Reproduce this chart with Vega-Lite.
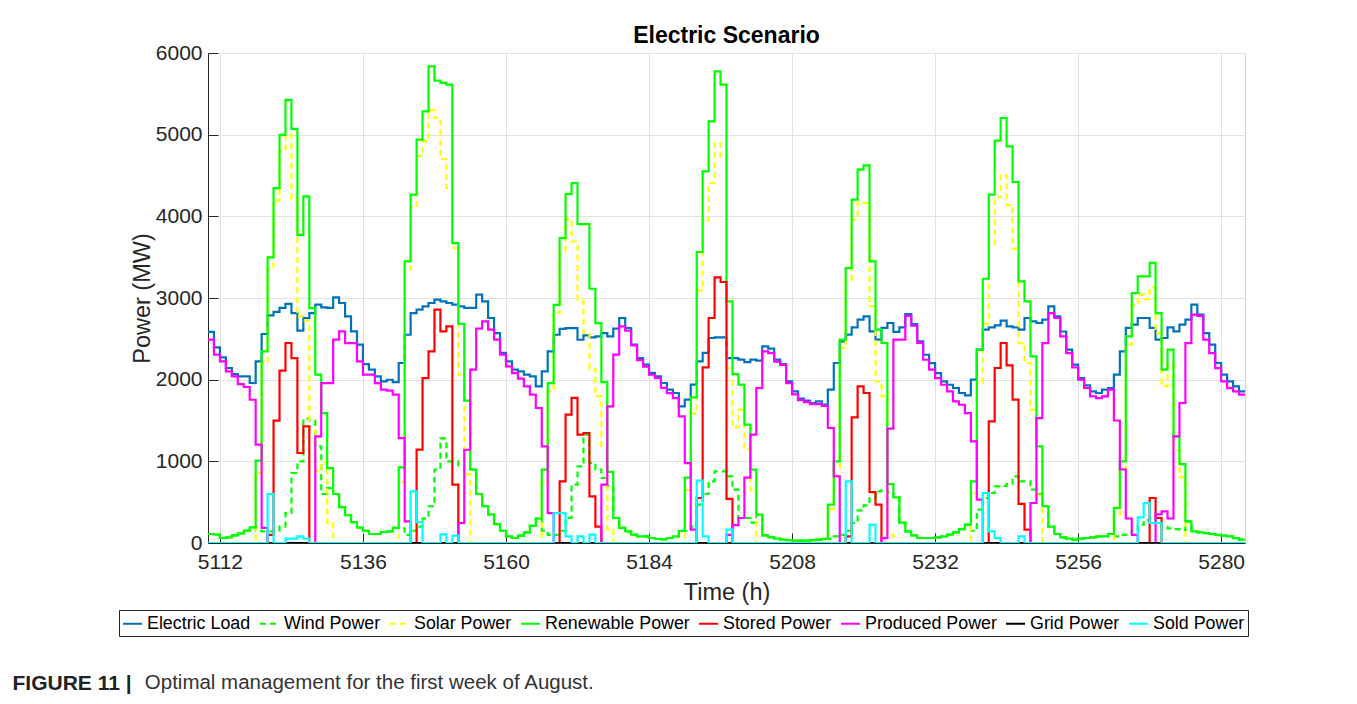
{
  "$schema": "https://vega.github.io/schema/vega-lite/v6.json",
  "background": "white",
  "padding": {"left": 12, "top": 24, "right": 5, "bottom": 5},
  "datasets": {
    "names": [
      {"k": "L", "name": "Electric Load"},
      {"k": "W", "name": "Wind Power"},
      {"k": "S", "name": "Solar Power"},
      {"k": "R", "name": "Renewable Power"},
      {"k": "St", "name": "Stored Power"},
      {"k": "P", "name": "Produced Power"},
      {"k": "G", "name": "Grid Power"},
      {"k": "C", "name": "Sold Power"}
    ],
    "power": [
      {"t":5110,"L":2584,"W":110,"S":0,"R":110,"St":0,"P":2490,"G":0,"C":0},
      {"t":5111,"L":2396,"W":102,"S":0,"R":102,"St":0,"P":2306,"G":0,"C":0},
      {"t":5112,"L":2273,"W":61,"S":0,"R":61,"St":0,"P":2224,"G":0,"C":0},
      {"t":5113,"L":2143,"W":69,"S":0,"R":69,"St":0,"P":2102,"G":0,"C":0},
      {"t":5114,"L":2069,"W":94,"S":0,"R":94,"St":0,"P":2041,"G":0,"C":0},
      {"t":5115,"L":2041,"W":118,"S":0,"R":118,"St":0,"P":1946,"G":0,"C":0},
      {"t":5116,"L":2041,"W":151,"S":0,"R":151,"St":0,"P":1910,"G":0,"C":0},
      {"t":5117,"L":1959,"W":192,"S":0,"R":192,"St":0,"P":1754,"G":0,"C":0},
      {"t":5118,"L":2224,"W":150,"S":858,"R":1008,"St":0,"P":1204,"G":0,"C":0},
      {"t":5119,"L":2559,"W":143,"S":2203,"R":2346,"St":0,"P":184,"G":0,"C":0},
      {"t":5120,"L":2788,"W":143,"S":3354,"R":3497,"St":100,"P":0,"G":0,"C":600},
      {"t":5121,"L":2829,"W":150,"S":4195,"R":4345,"St":1498,"P":0,"G":0,"C":0},
      {"t":5122,"L":2878,"W":200,"S":4798,"R":4998,"St":2110,"P":0,"G":0,"C":0},
      {"t":5123,"L":2927,"W":367,"S":5000,"R":5427,"St":2449,"P":0,"G":0,"C":53},
      {"t":5124,"L":2816,"W":857,"S":4214,"R":5071,"St":2265,"P":0,"G":0,"C":53},
      {"t":5125,"L":2600,"W":1000,"S":2774,"R":3774,"St":1102,"P":0,"G":0,"C":82},
      {"t":5126,"L":2755,"W":1522,"S":2722,"R":4244,"St":1428,"P":0,"G":0,"C":53},
      {"t":5127,"L":2816,"W":1500,"S":1377,"R":2877,"St":0,"P":0,"G":0,"C":0},
      {"t":5128,"L":2918,"W":1184,"S":877,"R":2061,"St":0,"P":1306,"G":0,"C":0},
      {"t":5129,"L":2886,"W":600,"S":991,"R":1591,"St":0,"P":1958,"G":0,"C":0},
      {"t":5130,"L":2878,"W":673,"S":245,"R":918,"St":0,"P":1958,"G":0,"C":0},
      {"t":5131,"L":3008,"W":600,"S":0,"R":600,"St":0,"P":2490,"G":0,"C":0},
      {"t":5132,"L":2939,"W":440,"S":0,"R":440,"St":0,"P":2591,"G":0,"C":0},
      {"t":5133,"L":2776,"W":340,"S":0,"R":340,"St":0,"P":2448,"G":0,"C":0},
      {"t":5134,"L":2592,"W":255,"S":0,"R":255,"St":0,"P":2448,"G":0,"C":0},
      {"t":5135,"L":2429,"W":190,"S":0,"R":190,"St":0,"P":2224,"G":0,"C":0},
      {"t":5136,"L":2191,"W":150,"S":0,"R":150,"St":0,"P":2061,"G":0,"C":0},
      {"t":5137,"L":2122,"W":110,"S":0,"R":110,"St":0,"P":2061,"G":0,"C":0},
      {"t":5138,"L":2041,"W":110,"S":0,"R":110,"St":0,"P":1958,"G":0,"C":0},
      {"t":5139,"L":1979,"W":135,"S":0,"R":135,"St":0,"P":1877,"G":0,"C":0},
      {"t":5140,"L":1999,"W":143,"S":0,"R":143,"St":0,"P":1865,"G":0,"C":0},
      {"t":5141,"L":1971,"W":184,"S":0,"R":184,"St":0,"P":1816,"G":0,"C":0},
      {"t":5142,"L":2204,"W":180,"S":747,"R":927,"St":0,"P":1285,"G":0,"C":0},
      {"t":5143,"L":2550,"W":100,"S":3349,"R":3449,"St":0,"P":265,"G":0,"C":0},
      {"t":5144,"L":2816,"W":150,"S":4115,"R":4265,"St":0,"P":0,"G":0,"C":633},
      {"t":5145,"L":2857,"W":200,"S":4739,"R":4939,"St":1143,"P":0,"G":0,"C":255},
      {"t":5146,"L":2898,"W":300,"S":4918,"R":5286,"St":2020,"P":0,"G":0,"C":0},
      {"t":5147,"L":2939,"W":450,"S":5300,"R":5837,"St":2347,"P":0,"G":0,"C":0},
      {"t":5148,"L":2980,"W":900,"S":5204,"R":5661,"St":2857,"P":0,"G":0,"C":0},
      {"t":5149,"L":2959,"W":1280,"S":4700,"R":5633,"St":2592,"P":0,"G":0,"C":105},
      {"t":5150,"L":2939,"W":1000,"S":4347,"R":5612,"St":2653,"P":0,"G":0,"C":0},
      {"t":5151,"L":2918,"W":1000,"S":3612,"R":3673,"St":714,"P":0,"G":0,"C":90},
      {"t":5152,"L":2898,"W":950,"S":2061,"R":2682,"St":0,"P":245,"G":0,"C":0},
      {"t":5153,"L":2878,"W":900,"S":843,"R":1743,"St":0,"P":1142,"G":0,"C":0},
      {"t":5154,"L":2878,"W":900,"S":0,"R":900,"St":0,"P":2122,"G":0,"C":0},
      {"t":5155,"L":3041,"W":600,"S":0,"R":600,"St":0,"P":2624,"G":0,"C":0},
      {"t":5156,"L":2959,"W":450,"S":0,"R":450,"St":0,"P":2714,"G":0,"C":0},
      {"t":5157,"L":2755,"W":350,"S":0,"R":350,"St":0,"P":2612,"G":0,"C":0},
      {"t":5158,"L":2571,"W":230,"S":0,"R":230,"St":0,"P":2490,"G":0,"C":0},
      {"t":5159,"L":2327,"W":150,"S":0,"R":150,"St":0,"P":2306,"G":0,"C":0},
      {"t":5160,"L":2224,"W":80,"S":0,"R":80,"St":0,"P":2163,"G":0,"C":0},
      {"t":5161,"L":2122,"W":61,"S":0,"R":61,"St":0,"P":2081,"G":0,"C":0},
      {"t":5162,"L":2102,"W":90,"S":0,"R":90,"St":0,"P":2012,"G":0,"C":0},
      {"t":5163,"L":2061,"W":130,"S":0,"R":130,"St":0,"P":1918,"G":0,"C":0},
      {"t":5164,"L":2041,"W":210,"S":0,"R":210,"St":0,"P":1816,"G":0,"C":0},
      {"t":5165,"L":1918,"W":300,"S":0,"R":300,"St":0,"P":1653,"G":0,"C":0},
      {"t":5166,"L":2102,"W":150,"S":748,"R":898,"St":0,"P":1184,"G":0,"C":0},
      {"t":5167,"L":2346,"W":100,"S":1858,"R":1958,"St":0,"P":367,"G":0,"C":0},
      {"t":5168,"L":2550,"W":100,"S":2817,"R":2917,"St":0,"P":0,"G":0,"C":367},
      {"t":5169,"L":2623,"W":150,"S":3583,"R":3733,"St":755,"P":0,"G":0,"C":367},
      {"t":5170,"L":2632,"W":306,"S":3966,"R":4272,"St":1571,"P":0,"G":0,"C":80},
      {"t":5171,"L":2632,"W":714,"S":3692,"R":4406,"St":1776,"P":0,"G":0,"C":0},
      {"t":5172,"L":2489,"W":939,"S":2966,"R":3905,"St":1327,"P":0,"G":0,"C":82},
      {"t":5173,"L":2542,"W":1327,"S":2578,"R":3905,"St":1347,"P":0,"G":0,"C":0},
      {"t":5174,"L":2517,"W":980,"S":2133,"R":3113,"St":570,"P":0,"G":0,"C":102},
      {"t":5175,"L":2530,"W":898,"S":1795,"R":2693,"St":200,"P":0,"G":0,"C":0},
      {"t":5176,"L":2570,"W":796,"S":1175,"R":1971,"St":0,"P":714,"G":0,"C":0},
      {"t":5177,"L":2530,"W":700,"S":170,"R":870,"St":0,"P":1673,"G":0,"C":0},
      {"t":5178,"L":2624,"W":306,"S":0,"R":306,"St":0,"P":2306,"G":0,"C":0},
      {"t":5179,"L":2755,"W":184,"S":0,"R":184,"St":0,"P":2652,"G":0,"C":0},
      {"t":5180,"L":2632,"W":143,"S":0,"R":143,"St":0,"P":2599,"G":0,"C":0},
      {"t":5181,"L":2428,"W":102,"S":0,"R":102,"St":0,"P":2419,"G":0,"C":0},
      {"t":5182,"L":2265,"W":82,"S":0,"R":82,"St":0,"P":2240,"G":0,"C":0},
      {"t":5183,"L":2184,"W":82,"S":0,"R":82,"St":0,"P":2160,"G":0,"C":0},
      {"t":5184,"L":2082,"W":61,"S":0,"R":61,"St":0,"P":2060,"G":0,"C":0},
      {"t":5185,"L":2041,"W":50,"S":0,"R":50,"St":0,"P":2020,"G":0,"C":0},
      {"t":5186,"L":1959,"W":45,"S":0,"R":45,"St":0,"P":1900,"G":0,"C":0},
      {"t":5187,"L":1877,"W":61,"S":0,"R":61,"St":0,"P":1836,"G":0,"C":0},
      {"t":5188,"L":1837,"W":82,"S":0,"R":82,"St":0,"P":1775,"G":0,"C":0},
      {"t":5189,"L":1673,"W":150,"S":0,"R":150,"St":0,"P":1550,"G":0,"C":0},
      {"t":5190,"L":1755,"W":150,"S":650,"R":800,"St":0,"P":979,"G":0,"C":0},
      {"t":5191,"L":1939,"W":200,"S":1584,"R":1784,"St":0,"P":163,"G":0,"C":0},
      {"t":5192,"L":2224,"W":469,"S":3094,"R":3563,"St":551,"P":0,"G":0,"C":763},
      {"t":5193,"L":2327,"W":600,"S":3951,"R":4551,"St":2150,"P":0,"G":0,"C":82},
      {"t":5194,"L":2510,"W":755,"S":4408,"R":5163,"St":2755,"P":0,"G":0,"C":0},
      {"t":5195,"L":2517,"W":878,"S":4898,"R":5776,"St":3253,"P":0,"G":0,"C":0},
      {"t":5196,"L":2517,"W":878,"S":4734,"R":5612,"St":3196,"P":0,"G":0,"C":0},
      {"t":5197,"L":2265,"W":816,"S":2143,"R":2959,"St":540,"P":100,"G":0,"C":163},
      {"t":5198,"L":2265,"W":653,"S":1416,"R":2069,"St":0,"P":220,"G":0,"C":0},
      {"t":5199,"L":2245,"W":306,"S":1633,"R":1939,"St":0,"P":306,"G":0,"C":0},
      {"t":5200,"L":2216,"W":306,"S":1143,"R":1449,"St":0,"P":800,"G":0,"C":0},
      {"t":5201,"L":2245,"W":250,"S":648,"R":898,"St":0,"P":1327,"G":0,"C":0},
      {"t":5202,"L":2233,"W":347,"S":0,"R":347,"St":0,"P":1897,"G":0,"C":0},
      {"t":5203,"L":2408,"W":94,"S":0,"R":94,"St":0,"P":2346,"G":0,"C":0},
      {"t":5204,"L":2380,"W":69,"S":0,"R":69,"St":0,"P":2326,"G":0,"C":0},
      {"t":5205,"L":2245,"W":53,"S":0,"R":53,"St":0,"P":2220,"G":0,"C":0},
      {"t":5206,"L":2192,"W":41,"S":0,"R":41,"St":0,"P":2180,"G":0,"C":0},
      {"t":5207,"L":1980,"W":35,"S":0,"R":35,"St":0,"P":1958,"G":0,"C":0},
      {"t":5208,"L":1857,"W":30,"S":0,"R":30,"St":0,"P":1820,"G":0,"C":0},
      {"t":5209,"L":1767,"W":30,"S":0,"R":30,"St":0,"P":1750,"G":0,"C":0},
      {"t":5210,"L":1743,"W":30,"S":0,"R":30,"St":0,"P":1725,"G":0,"C":0},
      {"t":5211,"L":1714,"W":35,"S":0,"R":35,"St":0,"P":1700,"G":0,"C":0},
      {"t":5212,"L":1735,"W":41,"S":0,"R":41,"St":0,"P":1700,"G":0,"C":0},
      {"t":5213,"L":1694,"W":50,"S":0,"R":50,"St":0,"P":1680,"G":0,"C":0},
      {"t":5214,"L":1878,"W":50,"S":419,"R":469,"St":0,"P":1408,"G":0,"C":0},
      {"t":5215,"L":2204,"W":80,"S":920,"R":1000,"St":0,"P":816,"G":0,"C":0},
      {"t":5216,"L":2469,"W":100,"S":2390,"R":2490,"St":0,"P":0,"G":0,"C":0},
      {"t":5217,"L":2551,"W":150,"S":3217,"R":3367,"St":80,"P":0,"G":0,"C":755},
      {"t":5218,"L":2641,"W":245,"S":3959,"R":4204,"St":1539,"P":0,"G":0,"C":0},
      {"t":5219,"L":2735,"W":400,"S":4171,"R":4571,"St":1918,"P":0,"G":0,"C":0},
      {"t":5220,"L":2776,"W":461,"S":4163,"R":4624,"St":1837,"P":0,"G":0,"C":0},
      {"t":5221,"L":2592,"W":550,"S":2899,"R":3449,"St":624,"P":0,"G":0,"C":224},
      {"t":5222,"L":2490,"W":633,"S":1979,"R":2612,"St":469,"P":0,"G":0,"C":0},
      {"t":5223,"L":2633,"W":650,"S":1799,"R":2449,"St":0,"P":60,"G":0,"C":0},
      {"t":5224,"L":2694,"W":620,"S":100,"R":720,"St":0,"P":1400,"G":0,"C":0},
      {"t":5225,"L":2584,"W":560,"S":0,"R":560,"St":0,"P":2490,"G":0,"C":0},
      {"t":5226,"L":2640,"W":250,"S":0,"R":250,"St":0,"P":2490,"G":0,"C":0},
      {"t":5227,"L":2803,"W":143,"S":0,"R":143,"St":0,"P":2780,"G":0,"C":0},
      {"t":5228,"L":2680,"W":94,"S":0,"R":94,"St":0,"P":2660,"G":0,"C":0},
      {"t":5229,"L":2468,"W":61,"S":0,"R":61,"St":0,"P":2450,"G":0,"C":0},
      {"t":5230,"L":2305,"W":61,"S":0,"R":61,"St":0,"P":2244,"G":0,"C":0},
      {"t":5231,"L":2203,"W":61,"S":0,"R":61,"St":0,"P":2122,"G":0,"C":0},
      {"t":5232,"L":2081,"W":70,"S":0,"R":70,"St":0,"P":2020,"G":0,"C":0},
      {"t":5233,"L":1979,"W":82,"S":0,"R":82,"St":0,"P":1938,"G":0,"C":0},
      {"t":5234,"L":1938,"W":102,"S":0,"R":102,"St":0,"P":1857,"G":0,"C":0},
      {"t":5235,"L":1898,"W":130,"S":0,"R":130,"St":0,"P":1734,"G":0,"C":0},
      {"t":5236,"L":1837,"W":170,"S":0,"R":170,"St":0,"P":1693,"G":0,"C":0},
      {"t":5237,"L":1808,"W":224,"S":0,"R":224,"St":0,"P":1591,"G":0,"C":0},
      {"t":5238,"L":2000,"W":150,"S":605,"R":755,"St":0,"P":1244,"G":0,"C":0},
      {"t":5239,"L":2367,"W":408,"S":1959,"R":2367,"St":0,"P":530,"G":0,"C":0},
      {"t":5240,"L":2612,"W":550,"S":2686,"R":3236,"St":0,"P":0,"G":0,"C":612},
      {"t":5241,"L":2640,"W":612,"S":3653,"R":4265,"St":1489,"P":0,"G":0,"C":143},
      {"t":5242,"L":2665,"W":694,"S":4233,"R":4927,"St":2143,"P":0,"G":0,"C":60},
      {"t":5243,"L":2722,"W":700,"S":4504,"R":5204,"St":2449,"P":0,"G":0,"C":0},
      {"t":5244,"L":2653,"W":720,"S":4137,"R":4857,"St":2176,"P":0,"G":0,"C":0},
      {"t":5245,"L":2640,"W":816,"S":3604,"R":4420,"St":1755,"P":0,"G":0,"C":0},
      {"t":5246,"L":2612,"W":755,"S":2448,"R":3203,"St":478,"P":0,"G":0,"C":82},
      {"t":5247,"L":2755,"W":755,"S":2204,"R":2959,"St":163,"P":0,"G":0,"C":0},
      {"t":5248,"L":2714,"W":653,"S":1632,"R":2285,"St":0,"P":490,"G":0,"C":0},
      {"t":5249,"L":2694,"W":600,"S":584,"R":1184,"St":0,"P":1530,"G":0,"C":0},
      {"t":5250,"L":2735,"W":450,"S":0,"R":450,"St":0,"P":2448,"G":0,"C":0},
      {"t":5251,"L":2898,"W":200,"S":0,"R":200,"St":0,"P":2816,"G":0,"C":0},
      {"t":5252,"L":2776,"W":110,"S":0,"R":110,"St":0,"P":2755,"G":0,"C":0},
      {"t":5253,"L":2590,"W":69,"S":0,"R":69,"St":0,"P":2530,"G":0,"C":0},
      {"t":5254,"L":2367,"W":53,"S":0,"R":53,"St":0,"P":2326,"G":0,"C":0},
      {"t":5255,"L":2184,"W":41,"S":0,"R":41,"St":0,"P":2150,"G":0,"C":0},
      {"t":5256,"L":2020,"W":53,"S":0,"R":53,"St":0,"P":2000,"G":0,"C":0},
      {"t":5257,"L":1930,"W":61,"S":0,"R":61,"St":0,"P":1898,"G":0,"C":0},
      {"t":5258,"L":1857,"W":69,"S":0,"R":69,"St":0,"P":1795,"G":0,"C":0},
      {"t":5259,"L":1837,"W":82,"S":0,"R":82,"St":0,"P":1775,"G":0,"C":0},
      {"t":5260,"L":1878,"W":82,"S":0,"R":82,"St":0,"P":1795,"G":0,"C":0},
      {"t":5261,"L":1898,"W":110,"S":0,"R":110,"St":0,"P":1877,"G":0,"C":0},
      {"t":5262,"L":2061,"W":82,"S":347,"R":429,"St":0,"P":1500,"G":0,"C":0},
      {"t":5263,"L":2347,"W":100,"S":900,"R":1000,"St":0,"P":900,"G":0,"C":0},
      {"t":5264,"L":2633,"W":102,"S":2428,"R":2530,"St":0,"P":300,"G":0,"C":0},
      {"t":5265,"L":2673,"W":150,"S":2911,"R":3061,"St":0,"P":100,"G":0,"C":0},
      {"t":5266,"L":2755,"W":224,"S":3041,"R":3265,"St":0,"P":0,"G":0,"C":314},
      {"t":5267,"L":2755,"W":280,"S":2985,"R":3265,"St":0,"P":0,"G":0,"C":490},
      {"t":5268,"L":2633,"W":300,"S":3129,"R":3429,"St":551,"P":0,"G":0,"C":245},
      {"t":5269,"L":2490,"W":250,"S":2566,"R":2816,"St":306,"P":350,"G":0,"C":245},
      {"t":5270,"L":2510,"W":200,"S":1922,"R":2122,"St":0,"P":388,"G":0,"C":0},
      {"t":5271,"L":2640,"W":180,"S":2187,"R":2367,"St":0,"P":300,"G":0,"C":0},
      {"t":5272,"L":2592,"W":170,"S":1136,"R":1306,"St":0,"P":1306,"G":0,"C":0},
      {"t":5273,"L":2673,"W":160,"S":807,"R":967,"St":0,"P":1714,"G":0,"C":0},
      {"t":5274,"L":2735,"W":265,"S":0,"R":265,"St":0,"P":2448,"G":0,"C":0},
      {"t":5275,"L":2918,"W":143,"S":0,"R":143,"St":0,"P":2796,"G":0,"C":0},
      {"t":5276,"L":2796,"W":130,"S":0,"R":130,"St":0,"P":2780,"G":0,"C":0},
      {"t":5277,"L":2571,"W":120,"S":0,"R":120,"St":0,"P":2490,"G":0,"C":0},
      {"t":5278,"L":2429,"W":110,"S":0,"R":110,"St":0,"P":2326,"G":0,"C":0},
      {"t":5279,"L":2204,"W":100,"S":0,"R":100,"St":0,"P":2142,"G":0,"C":0},
      {"t":5280,"L":2061,"W":90,"S":0,"R":90,"St":0,"P":1979,"G":0,"C":0},
      {"t":5281,"L":1979,"W":80,"S":0,"R":80,"St":0,"P":1897,"G":0,"C":0},
      {"t":5282,"L":1918,"W":60,"S":0,"R":60,"St":0,"P":1857,"G":0,"C":0},
      {"t":5283,"L":1857,"W":41,"S":0,"R":41,"St":0,"P":1816,"G":0,"C":0},
      {"t":5284,"L":1857,"W":41,"S":0,"R":41,"St":0,"P":1816,"G":0,"C":0}
    ]
  },
  "title": {
    "text": "FIGURE 11 |",
    "orient": "bottom",
    "anchor": "start",
    "font": "Liberation Sans",
    "fontSize": 21,
    "fontWeight": "bold",
    "color": "#222222",
    "dx": -106,
    "dy": -21,
    "offset": 0
  },
  "vconcat": [
    {
      "title": {
        "text": "Optimal management for the first week of August.",
        "orient": "bottom",
        "anchor": "start",
        "font": "Liberation Sans",
        "fontSize": 20.5,
        "fontWeight": "normal",
        "color": "#333333",
        "dx": 15,
        "offset": 69
      },
      "vconcat": [
        {
          "width": 1037,
          "height": 490,
          "title": {
            "text": "Electric Scenario",
            "font": "Liberation Sans",
            "fontSize": 23,
            "fontWeight": "bold",
            "color": "#000000",
            "anchor": "middle",
            "offset": -6
          },
          "data": {"name": "power"},
          "transform": [
            {"fold": ["L", "W", "S", "R", "St", "P", "G", "C"], "as": ["k", "value"]},
            {"lookup": "k", "from": {"data": {"name": "names"}, "key": "k", "fields": ["name"]}}
          ],
          "mark": {"type": "line", "interpolate": "step-after", "strokeWidth": 2.2, "clip": true},
          "encoding": {
            "x": {
              "field": "t",
              "type": "quantitative",
              "scale": {"domain": [5110, 5284], "nice": false, "zero": false},
              "axis": {"values": [5112, 5136, 5160, 5184, 5208, 5232, 5256, 5280], "format": "d", "title": "Time (h)"}
            },
            "y": {
              "field": "value",
              "type": "quantitative",
              "scale": {"domain": [0, 6000], "nice": false},
              "axis": {"values": [0, 1000, 2000, 3000, 4000, 5000, 6000], "format": "d", "title": "Power (MW)"}
            },
            "color": {
              "field": "name",
              "type": "nominal",
              "scale": {
                "domain": ["Electric Load", "Wind Power", "Solar Power", "Renewable Power", "Stored Power", "Produced Power", "Grid Power", "Sold Power"],
                "range": ["#0072BD", "#00FF00", "#FFFF00", "#00FF00", "#FF0000", "#FF00FF", "#000000", "#00FFFF"]
              },
              "legend": {"title": null, "orient": "none", "legendX": -89, "legendY": 557, "direction": "horizontal"}
            },
            "strokeDash": {
              "field": "name",
              "type": "nominal",
              "scale": {
                "domain": ["Electric Load", "Wind Power", "Solar Power", "Renewable Power", "Stored Power", "Produced Power", "Grid Power", "Sold Power"],
                "range": [[1, 0], [6, 4], [6, 4], [1, 0], [1, 0], [1, 0], [1, 0], [1, 0]]
              },
              "legend": {"title": null, "orient": "none", "legendX": -89, "legendY": 557, "direction": "horizontal"}
            }
          }
        }
      ]
    }
  ],
  "config": {
    "font": "Liberation Sans",
    "view": {"stroke": "#d4d4d4", "strokeWidth": 1},
    "axis": {
      "labelFont": "Liberation Sans",
      "labelFontSize": 21,
      "labelColor": "#262626",
      "titleFont": "Liberation Sans",
      "titleFontSize": 23.5,
      "titleFontWeight": "normal",
      "titleColor": "#262626",
      "domainColor": "#262626",
      "domainWidth": 1,
      "tickColor": "#262626",
      "tickSize": -10,
      "gridColor": "#e1e1e1",
      "gridWidth": 1,
      "grid": true
    },
    "axisX": {"labelPadding": 18, "titlePadding": 8},
    "axisY": {"labelPadding": 16, "titlePadding": 1},
    "legend": {
      "symbolType": "stroke",
      "symbolSize": 361,
      "symbolStrokeWidth": 2,
      "labelFont": "Liberation Sans",
      "labelFontSize": 17.85,
      "labelColor": "#000000",
      "labelOffset": 4,
      "labelLimit": 0,
      "columnPadding": 5,
      "padding": 3,
      "strokeColor": "#262626",
      "fillColor": "#ffffff"
    }
  }
}
